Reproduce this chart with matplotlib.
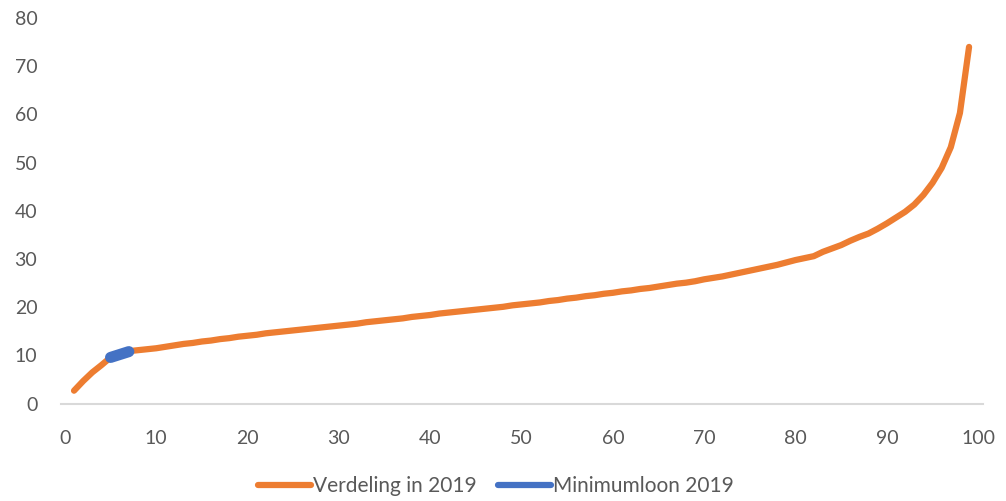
import numpy as np
import matplotlib
matplotlib.use('Agg')
import matplotlib.pyplot as plt

plt.rcParams['font.family'] = ['Lato', 'DejaVu Sans']

# percentielen 1..99
percentiel = list(range(1, 100))
verdeling_2019 = [2.7, 4.7, 6.5, 8.0, 9.6, 10.3, 10.9, 11.1, 11.3, 11.5,
                  11.8, 12.1, 12.4, 12.6, 12.9, 13.1, 13.4, 13.6, 13.9, 14.1,
                  14.3, 14.6, 14.8, 15.0, 15.2, 15.4, 15.6, 15.8, 16.0, 16.2,
                  16.4, 16.6, 16.9, 17.1, 17.3, 17.5, 17.7, 18.0, 18.2, 18.4,
                  18.7, 18.9, 19.1, 19.3, 19.5, 19.7, 19.9, 20.1, 20.4, 20.6,
                  20.8, 21.0, 21.3, 21.5, 21.8, 22.0, 22.3, 22.5, 22.8, 23.0,
                  23.3, 23.5, 23.8, 24.0, 24.3, 24.6, 24.9, 25.1, 25.4, 25.8,
                  26.1, 26.4, 26.8, 27.2, 27.6, 28.0, 28.4, 28.8, 29.3, 29.8,
                  30.2, 30.6, 31.5, 32.2, 32.9, 33.8, 34.6, 35.3, 36.3, 37.4,
                  38.6, 39.8, 41.3, 43.3, 45.8, 48.9, 53.2, 60.3, 74.0]

min_x = [5, 6, 7]
minimumloon_2019 = [9.6, 10.2, 10.8]

x_ticks = list(range(0, 101, 10))
y_ticks = list(range(0, 81, 10))

fig = plt.figure(figsize=(10.06, 5.01), dpi=100)
ax = fig.add_axes([0.0606, 0.1942, 0.9163, 0.7699])

ax.plot(percentiel, verdeling_2019, color='#ED7D31', lw=4.5,
        solid_capstyle='round', solid_joinstyle='round', label='Verdeling in 2019')
ax.plot(min_x, minimumloon_2019, color='#4472C4', lw=8,
        solid_capstyle='round', label='Minimumloon 2019')

ax.set_xlim(-0.43, 100.5)
ax.set_ylim(0, 80)
ax.set_xticks(x_ticks)
ax.set_yticks(y_ticks)

for s in ['top', 'right', 'left']:
    ax.spines[s].set_visible(False)
ax.spines['bottom'].set_color('#D9D9D9')
ax.spines['bottom'].set_linewidth(1.5)
ax.spines['bottom'].set_zorder(0)

ax.tick_params(axis='x', length=0, pad=19, labelsize=14, labelcolor='#595959')
ax.tick_params(axis='y', length=0, pad=17, labelsize=14, labelcolor='#595959')

handles, labels = ax.get_legend_handles_labels()
leg = fig.legend(handles, labels, loc='lower center', ncol=2, frameon=False,
                 fontsize=15, handlelength=2.55, handletextpad=0.1,
                 columnspacing=1.0, bbox_to_anchor=(0.493, -0.028))
for line in leg.get_lines():
    line.set_linewidth(4.5)
for t in leg.get_texts():
    t.set_color('#595959')

fig.savefig('out.png', dpi=100)
